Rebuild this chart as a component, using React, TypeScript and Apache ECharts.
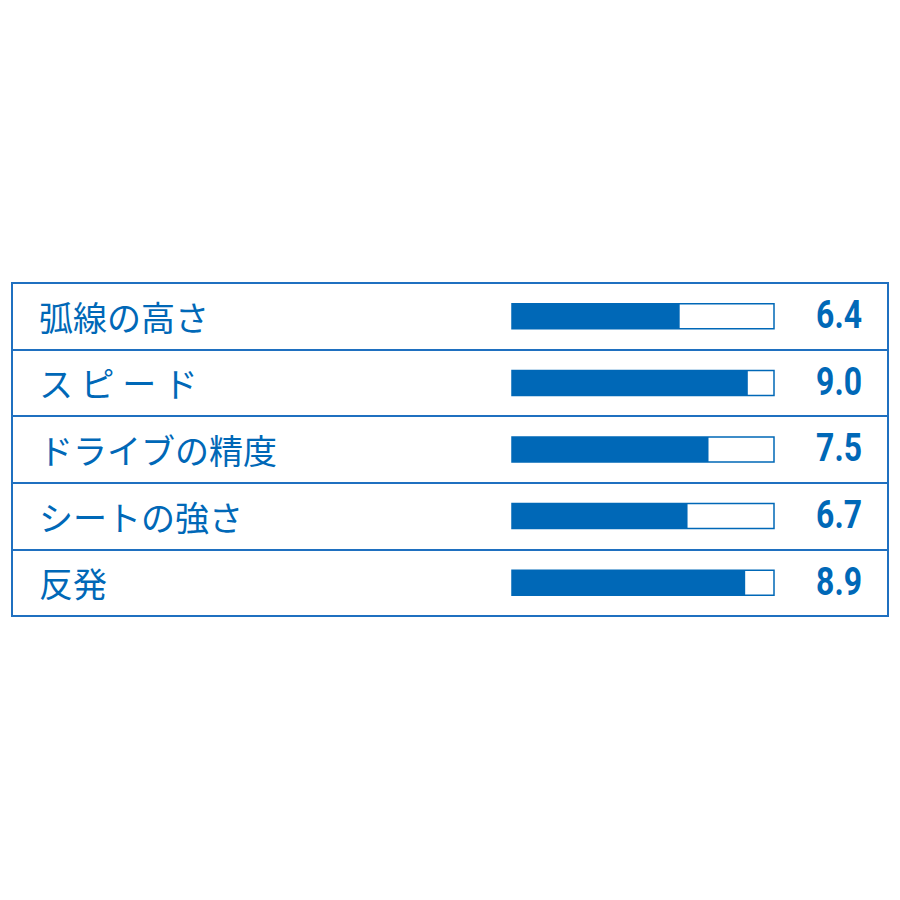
import React, { useEffect, useRef } from "react";
import * as echarts from "echarts";

const categories = ["弧線の高さ", "ス ピ ー ド", "ドライブの精度", "シートの強さ", "反発"];
const values = [6.4, 9.0, 7.5, 6.7, 8.9];
const maxValue = 10;

const BLUE = "#0068b7";
const LINE = "#1f70c0";

export default function App() {
  const ref = useRef<HTMLDivElement>(null);
  useEffect(() => {
    if (!ref.current) return;
    const chart = echarts.init(ref.current, undefined, { renderer: "svg" });
    chart.setOption({
      animation: false,
      backgroundColor: "#ffffff",
      grid: [
        { left: 12, top: 283, width: 876, height: 333, show: true, borderColor: LINE, borderWidth: 2, backgroundColor: "transparent" },
        { left: 512, top: 283, width: 262, height: 333 },
      ],
      xAxis: [
        { type: "value", gridIndex: 0, show: false, min: 0, max: 1 },
        { type: "value", gridIndex: 1, show: false, min: 0, max: maxValue },
      ],
      yAxis: [
        {
          type: "category",
          gridIndex: 0,
          inverse: true,
          data: categories,
          axisLine: { show: false },
          axisTick: { show: false },
          splitLine: { show: true, lineStyle: { color: LINE, width: 2 } },
          axisLabel: {
            inside: true,
            margin: 27,
            align: "left",
            fontSize: 34,
            color: BLUE,
            fontFamily: "Noto Sans CJK JP",
          },
        },
        {
          type: "category",
          gridIndex: 1,
          inverse: true,
          data: categories,
          show: false,
        },
      ],
      series: [
        {
          type: "bar",
          xAxisIndex: 1,
          yAxisIndex: 1,
          data: values,
          barWidth: 25,
          itemStyle: { color: BLUE },
          showBackground: true,
          backgroundStyle: { color: "#ffffff", borderColor: BLUE, borderWidth: 1.5 },
        },
        {
          type: "custom",
          xAxisIndex: 1,
          yAxisIndex: 1,
          data: values.map((v, i) => [v, i]),
          encode: { x: 0, y: 1 },
          renderItem: (params: any, api: any) => {
            const v = api.value(0);
            const pt = api.coord([maxValue, api.value(1)]);
            return {
              type: "text",
              x: pt[0] + 88,
              y: pt[1] - 1,
              scaleX: 0.84,
              style: {
                text: Number(v).toFixed(1),
                fill: BLUE,
                font: "bold 38px Roboto, sans-serif",
                align: "right",
                verticalAlign: "middle",
              },
            };
          },
        },
      ],
    });
    return () => chart.dispose();
  }, []);
  return <div ref={ref} style={{ position: "absolute", left: 0, top: 0, width: 900, height: 900 }} />;
}
